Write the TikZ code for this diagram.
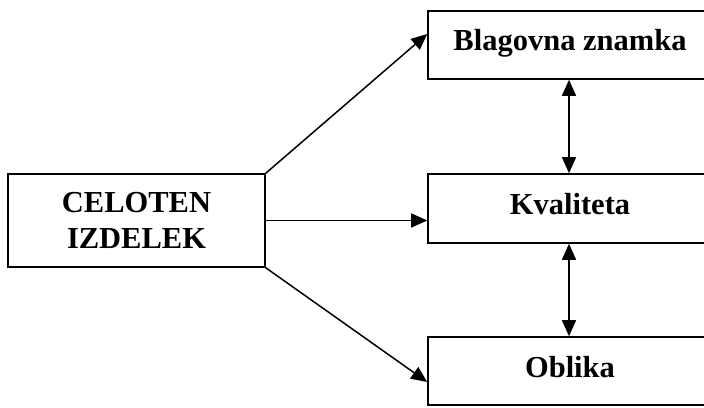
\documentclass[tikz,border=0pt]{standalone}
\usepackage{fontspec}
\setmainfont{Liberation Serif}
\usetikzlibrary{arrows.meta, calc}

\tikzset{
  box/.style={draw, line width=1.6pt, rectangle, font=\fontsize{30.5}{36}\selectfont\bfseries},
  sidebox/.style={box, minimum width=284pt, minimum height=68pt, text height=21pt, text depth=9pt},
  link/.style={line width=1.5pt}
}

\begin{document}
\begin{tikzpicture}[x=1pt, y=1pt, >={Triangle[length=16pt, width=14pt]}]
  \useasboundingbox (0,0) rectangle (704,407);
  \clip (0,0) rectangle (704,407);
  % Main box on the left
  \node[box, minimum width=257pt, minimum height=93pt, align=center] (whole) at (136.5,186.5)
    {CELOTEN\\IZDELEK};
  % Boxes on the right
  \node[sidebox] (brand) at (570,362) {Blagovna znamka};
  \node[sidebox, minimum height=69pt] (quality) at (570,198.5) {Kvaliteta};
  \node[sidebox] (shape) at (570,36) {Oblika};
  % Arrows from the main box
  \draw[link, ->] (whole.north east) -- ([yshift=11pt]brand.west);
  \draw[link, ->] (whole.east) -- (whole.east -| quality.west);
  \draw[link, ->] (whole.south east) -- ([yshift=-11pt]shape.west);
  % Links between the right boxes
  \draw[link, <->] ([xshift=-1pt]brand.south) -- ([xshift=-1pt]quality.north);
  \draw[link, <->] ([xshift=-1pt]quality.south) -- ([xshift=-1pt]shape.north);
\end{tikzpicture}
\end{document}
